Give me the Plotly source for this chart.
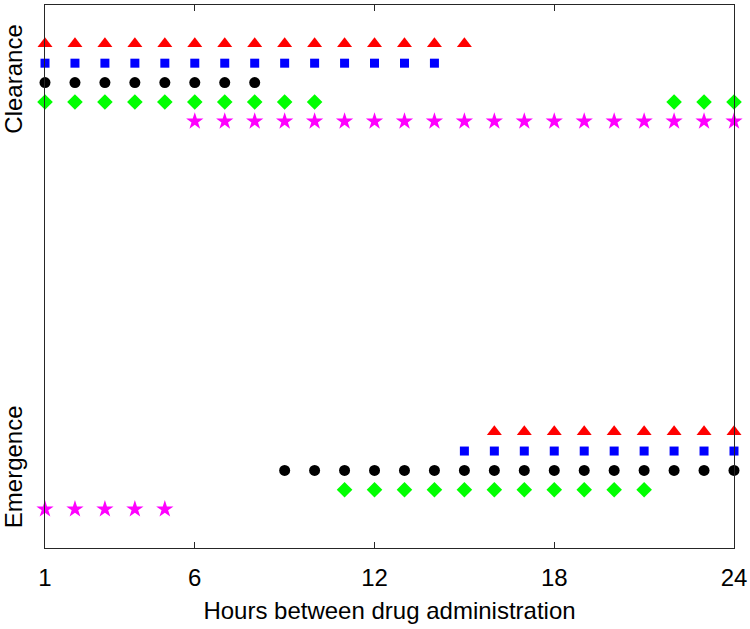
import plotly.graph_objects as go

# Outcome categories (y) and hours between drug administration (x)
outcome_labels = ["Emergence", "Clearance"]
x_ticks = [1, 6, 12, 18, 24]

series_names = ["Series A", "Series B", "Series C", "Series D", "Series E"]

a_clearance = [1, 2, 3, 4, 5, 6, 7, 8, 9, 10, 11, 12, 13, 14, 15]
a_emergence = [16, 17, 18, 19, 20, 21, 22, 23, 24]

b_clearance = [1, 2, 3, 4, 5, 6, 7, 8, 9, 10, 11, 12, 13, 14]
b_emergence = [15, 16, 17, 18, 19, 20, 21, 22, 23, 24]

c_clearance = [1, 2, 3, 4, 5, 6, 7, 8]
c_emergence = [9, 10, 11, 12, 13, 14, 15, 16, 17, 18, 19, 20, 21, 22, 23, 24]

d_clearance = [1, 2, 3, 4, 5, 6, 7, 8, 9, 10, 22, 23, 24]
d_emergence = [11, 12, 13, 14, 15, 16, 17, 18, 19, 20, 21]

e_clearance = [6, 7, 8, 9, 10, 11, 12, 13, 14, 15, 16, 17, 18, 19, 20, 21, 22, 23, 24]
e_emergence = [1, 2, 3, 4, 5]

clearance = [a_clearance, b_clearance, c_clearance, d_clearance, e_clearance]
emergence = [a_emergence, b_emergence, c_emergence, d_emergence, e_emergence]

# styles
colors = ["#ff0000", "#0000ff", "#000000", "#00ff00", "#ff00ff"]
symbols = ["triangle-up", "square", "circle", "diamond", "star"]
sizes = [13, 9, 11, 12, 13]
offsets = [0.1, 0.05, 0.0, -0.05, -0.1]

fig = go.Figure()
for i in range(5):
    xs = clearance[i] + emergence[i]
    ys = [2 + offsets[i]] * len(clearance[i]) + [1 + offsets[i]] * len(emergence[i])
    fig.add_trace(go.Scatter(
        x=xs, y=ys, mode="markers", name=series_names[i],
        marker=dict(symbol=symbols[i], color=colors[i], size=sizes[i], line=dict(width=0)),
        cliponaxis=False, showlegend=False,
    ))

fig.update_layout(
    width=750, height=629, autosize=False,
    margin=dict(l=45, r=16, t=5, b=81, autoexpand=False),
    paper_bgcolor="white", plot_bgcolor="white",
    font=dict(family="Arial, Liberation Sans, sans-serif", size=24, color="#000000"),
)
fig.update_xaxes(
    range=[1, 24], tickvals=x_ticks, ticks="inside", ticklen=6, tickcolor="#262626",
    showline=True, linecolor="#262626", linewidth=1, mirror="ticks",
    showgrid=False, zeroline=False, automargin=False,
    title=dict(text="Hours between drug administration", standoff=12, font=dict(size=24)),
    tickfont=dict(size=24), ticklabelstandoff=8,
)
fig.update_yaxes(
    range=[0.8, 2.2], tickvals=[1, 2], ticktext=outcome_labels, tickangle=-90,
    ticks="", showline=True, linecolor="#262626", linewidth=1, mirror=True,
    showgrid=False, zeroline=False, automargin=False, tickfont=dict(size=24), ticklabelstandoff=12,
)
fig.write_html(
    "out.html",
    config={"displayModeBar": False},
    post_script="document.body.style.margin='0';document.body.style.padding='0';document.body.style.overflow='hidden';",
)
